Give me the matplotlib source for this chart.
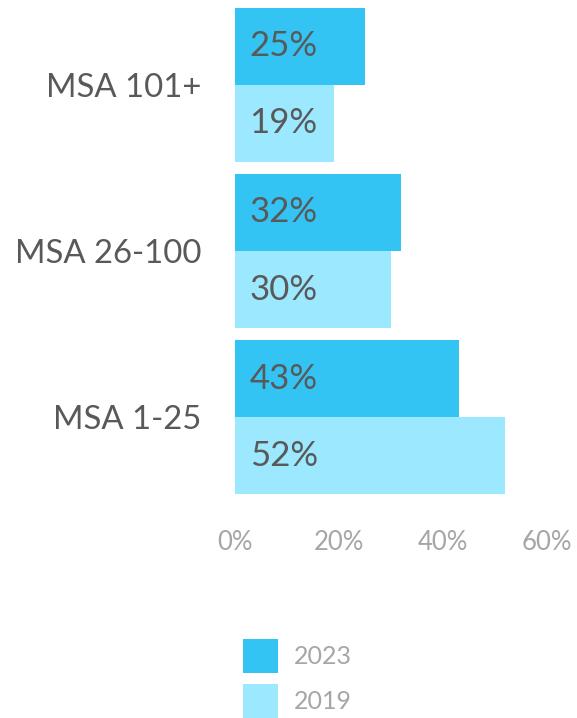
import numpy as np
import matplotlib
matplotlib.use("Agg")
from matplotlib import pyplot as plt

plt.rcParams['font.family'] = ['Lato', 'DejaVu Sans']

# Data
categories = ["MSA 1-25", "MSA 26-100", "MSA 101+"]
vals_2023 = [43, 32, 25]
vals_2019 = [52, 30, 19]
series_labels = ["2023", "2019"]
xticks = [0, 20, 40, 60]

col_2023 = "#33C4F3"
col_2019 = "#9BE8FF"
label_col = "#595959"
tick_col = "#A6A6A6"

fig = plt.figure(figsize=(5.77, 7.18), dpi=100)
ax = fig.add_axes([235 / 577, 223 / 718, 312 / 577, 488 / 718])

y = np.arange(len(categories))
h = 0.464
b23 = ax.barh(y + h / 2, vals_2023, height=h, color=col_2023, label=series_labels[0])
b19 = ax.barh(y - h / 2, vals_2019, height=h, color=col_2019, label=series_labels[1])

# Value labels inside bars
for bars, vals in [(b23, vals_2023), (b19, vals_2019)]:
    for bar, v in zip(bars, vals):
        ax.text(2.8, bar.get_y() + bar.get_height() / 2, f"{v}%",
                va='center', ha='left', fontsize=25, color=label_col)

ax.set_xlim(0, 60)
ax.set_ylim(-h - 0.005, len(categories) - 1 + h + 0.005)
ax.set_xticks(xticks)
ax.set_xticklabels([f"{t}%" for t in xticks])
ax.set_yticks(y)
ax.set_yticklabels(categories)
ax.tick_params(axis='x', length=0, pad=25, labelsize=18.5, labelcolor=tick_col)
ax.tick_params(axis='y', length=0, pad=24, labelsize=23.7, labelcolor=label_col)
for s in ax.spines.values():
    s.set_visible(False)

fig.legend(handles=[b23, b19], labels=series_labels, loc='upper left',
           bbox_to_anchor=(243 / 577, 1 - 639 / 718), frameon=False,
           borderpad=0, borderaxespad=0,
           fontsize=18, labelcolor=tick_col, handlelength=1.4, handleheight=1.716,
           labelspacing=0.44, handletextpad=0.64)

fig.savefig("out.png", dpi=100)
